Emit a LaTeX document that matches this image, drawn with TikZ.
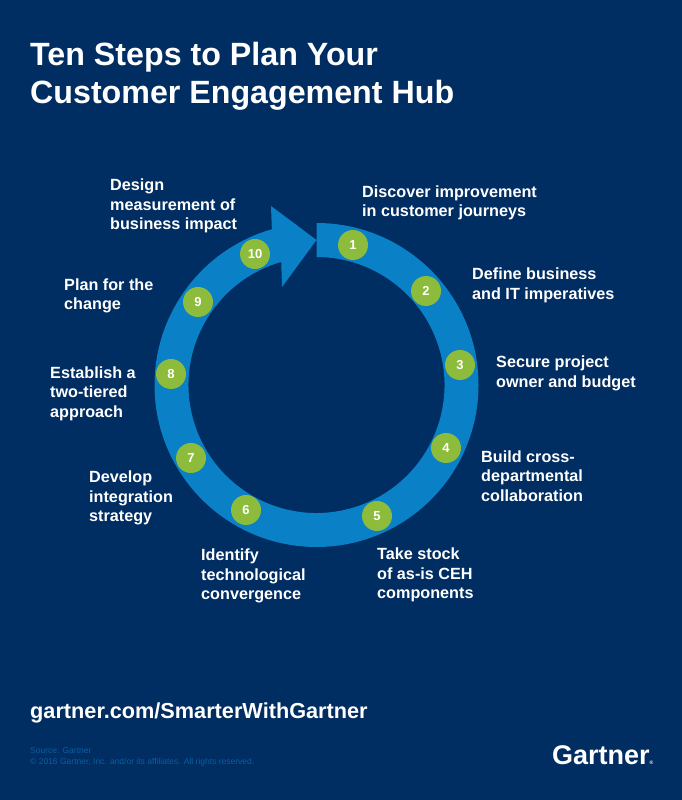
\documentclass[tikz,border=0pt]{standalone}
\usepackage{xcolor}
\usepackage{fontspec}
\setmainfont{Liberation Sans}
\usetikzlibrary{positioning,calc}
\definecolor{hubnavy}{HTML}{002D62}
\definecolor{hubblue}{HTML}{0A80C6}
\definecolor{hubgreen}{HTML}{8DBB3C}
\definecolor{hubsmall}{HTML}{0A5EA0}
\tikzset{
  stepdot/.style={circle,fill=hubgreen,minimum size=30pt,inner sep=0pt,text=white,font=\fontsize{13}{16}\selectfont\bfseries},
  steplabel/.style={anchor=west,align=left,inner sep=0pt,text=white,font=\fontsize{16.2}{19.5}\selectfont\bfseries},
}
\begin{document}
\begin{tikzpicture}[x=1pt,y=1pt]
    % Background
    \fill[hubnavy] (0,0) rectangle (682,800);
    \useasboundingbox (0,0) rectangle (682,800);

    % Title
    \node[anchor=west,align=left,inner sep=0pt,text=white,font=\fontsize{32.2}{38.2}\selectfont\bfseries] (title) at (30,724) {Ten Steps to Plan Your\\Customer Engagement Hub};

    % Ring with arrow head
    \fill[hubblue] (316.5,577) arc (90:-254:162) -- (271,594) -- (316.5,560) -- (282,513)
        -- ($(316.5,415)+(106:128)$) arc (-254:90:128) -- cycle;

    % Numbered steps
    \foreach \n/\x/\y in {1/353/555,2/426/509,3/460/435,4/446/352,5/377/284,6/246/290,7/191/342,8/171/426,9/198/498,10/255/546}
        \node[stepdot] (step\n) at (\x,\y) {\n};

    % Step labels
    \node[steplabel] (label1) at (362,597) {Discover improvement\\in customer journeys};
    \node[steplabel] (label2) at (472,514.5) {Define business\\and IT imperatives};
    \node[steplabel] (label3) at (496,426.5) {Secure project\\owner and budget};
    \node[steplabel] (label4) at (481,324) {Build cross-\\departmental\\collaboration};
    \node[steplabel] (label5) at (377,225) {Take stock\\of as-is CEH\\components};
    \node[steplabel] (label6) at (201,224) {Identify\\technological\\convergence};
    \node[steplabel] (label7) at (89,302) {Develop\\integration\\strategy};
    \node[steplabel] (label8) at (50,406.5) {Establish a\\two-tiered\\approach};
    \node[steplabel] (label9) at (64,504) {Plan for the\\change};
    \node[steplabel] (label10) at (110,594) {Design\\measurement of\\business impact};

    % Footer
    \node[anchor=west,inner sep=0pt,text=white,font=\fontsize{21.7}{26}\selectfont\bfseries] (url) at (30,87) {gartner.com/SmarterWithGartner};
    \node[anchor=west,align=left,inner sep=0pt,text=hubsmall,font=\fontsize{8.5}{11}\selectfont] (source) at (30,43.5) {Source: Gartner\\© 2016 Gartner, Inc. and/or its affiliates. All rights reserved.};
    \node[anchor=west,inner sep=0pt,text=white,font=\fontsize{27}{30}\selectfont\bfseries] (logo) at (552,45) {Gartner\raisebox{0pt}{\textcolor{white}{\fontsize{5}{5}\selectfont\symbol{"00AE}}}};
\end{tikzpicture}
\end{document}
